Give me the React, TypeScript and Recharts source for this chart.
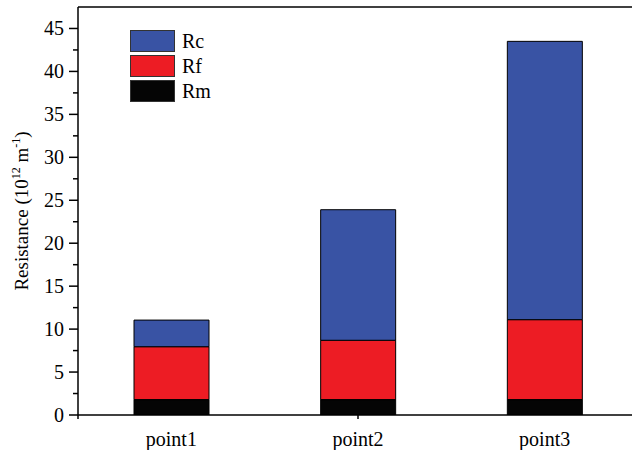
import { BarChart, Bar, XAxis, YAxis, Legend } from "recharts";

const FONT = "'Liberation Serif', 'Times New Roman', serif";

const categories = ["point1", "point2", "point3"];
const rmValues = [1.8, 1.8, 1.8];
const rfValues = [6.15, 6.9, 9.3];
const rcValues = [3.1, 15.2, 32.4];

const yTicks = [0, 2.5, 5, 7.5, 10, 12.5, 15, 17.5, 20, 22.5, 25, 27.5, 30, 32.5, 35, 37.5, 40, 42.5, 45];
const xTickMarks = [0, 1, 2, 3, 4, 5, 6, 7, 8, 9, 10];
const xMajorMarks = [2, 5, 8];

const data = categories.map((name, i) => ({
  name,
  Rm: rmValues[i],
  Rf: rfValues[i],
  Rc: rcValues[i],
}));

function YTick(props: any) {
  const { x, y, payload } = props;
  const major = payload.value % 5 === 0;
  return (
    <g>
      <line x1={x - (major ? 9 : 5)} x2={x} y1={y} y2={y} stroke="#000" strokeWidth={1.5} />
      {major && (
        <text x={x - 14} y={y} dy="0.35em" textAnchor="end" fontSize={20} fontFamily={FONT} fill="#000">
          {payload.value}
        </text>
      )}
    </g>
  );
}

function XMark(props: any) {
  const { x, y, payload } = props;
  const major = xMajorMarks.includes(payload.value);
  return <line x1={x} x2={x} y1={y} y2={y + (major ? 8 : 4)} stroke="#000" strokeWidth={1.5} />;
}

function YLabel(props: any) {
  const vb = props.viewBox;
  const x = vb.x + 28;
  const y = vb.y + vb.height / 2;
  return (
    <text
      x={x}
      y={y}
      transform={`rotate(-90, ${x}, ${y})`}
      textAnchor="middle"
      fontSize={19}
      fontFamily={FONT}
      fill="#000"
    >
      Resistance (10
      <tspan dy={-8} fontSize={12}>12</tspan>
      <tspan dy={8}> m</tspan>
      <tspan dy={-8} fontSize={12}>-1</tspan>
      <tspan dy={8}>)</tspan>
    </text>
  );
}

function LegendBox(props: any) {
  const items = props.payload ?? [];
  return (
    <div style={{ display: "flex", flexDirection: "column", gap: 3 }}>
      {items.map((it: any) => (
        <div key={it.value} style={{ display: "flex", alignItems: "center", height: 22 }}>
          <div
            style={{
              width: 45,
              height: 22,
              boxSizing: "border-box",
              background: it.color,
              border: "1px solid #333",
            }}
          />
          <span style={{ marginLeft: 7, fontSize: 20, fontFamily: FONT, lineHeight: "22px", color: "#000" }}>
            {it.value}
          </span>
        </div>
      ))}
    </div>
  );
}

export default function App() {
  return (
    <div style={{ position: "absolute", left: 0, top: 0, width: 632, height: 450, overflow: "hidden", background: "#fff" }}>
      <BarChart width={640} height={450} data={data} margin={{ top: 6, right: 2, bottom: 0, left: 0 }}>
        <XAxis
          xAxisId="cat"
          dataKey="name"
          axisLine={false}
          tickLine={false}
          tickSize={0}
          tickMargin={16}
          height={34}
          interval={0}
          tick={{ fontSize: 20, fill: "#000", fontFamily: FONT }}
        />
        <XAxis
          xAxisId="a_marks"
          type="number"
          domain={[0, 10]}
          ticks={xTickMarks}
          allowDataOverflow
          axisLine={{ stroke: "#000", strokeWidth: 1.5 }}
          tickLine={false}
          tickSize={0}
          tickMargin={0}
          height={1}
          interval={0}
          tick={<XMark />}
        />
        <XAxis
          xAxisId="top"
          orientation="top"
          dataKey="name"
          height={1}
          tick={false}
          tickLine={false}
          axisLine={{ stroke: "#000", strokeWidth: 1.5 }}
        />
        <YAxis
          domain={[0, 47.5]}
          ticks={yTicks}
          allowDataOverflow
          width={78}
          interval={0}
          tickSize={0}
          tickMargin={0}
          tickLine={false}
          axisLine={{ stroke: "#000", strokeWidth: 1.5 }}
          tick={<YTick />}
          label={(p: any) => <YLabel {...p} />}
        />
        <Legend
          layout="vertical"
          align="center"
          verticalAlign="middle"
          content={<LegendBox />}
          wrapperStyle={{ top: 30, left: 130, width: "auto" }}
        />
        <Bar dataKey="Rm" xAxisId="cat" stackId="s" barSize={75} fill="#050505" stroke="#000" strokeWidth={1} isAnimationActive={false} />
        <Bar dataKey="Rf" xAxisId="cat" stackId="s" barSize={75} fill="#ed1c24" stroke="#000" strokeWidth={1} isAnimationActive={false} />
        <Bar dataKey="Rc" xAxisId="cat" stackId="s" barSize={75} fill="#3953a4" stroke="#000" strokeWidth={1} isAnimationActive={false} />
      </BarChart>
    </div>
  );
}
